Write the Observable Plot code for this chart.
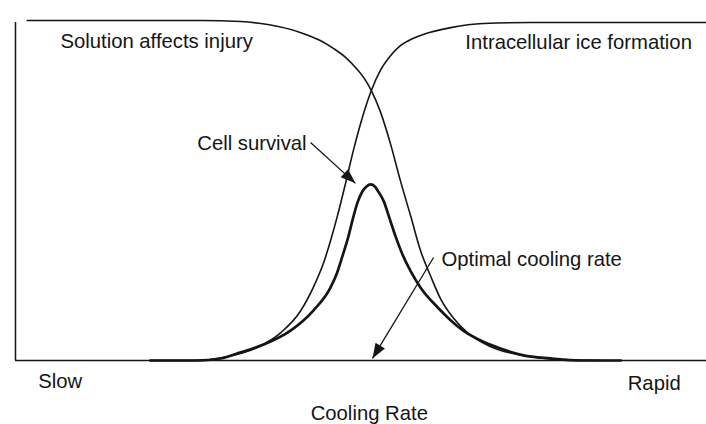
<!DOCTYPE html>
<html>
<head>
<meta charset="utf-8">
<script src="https://cdn.jsdelivr.net/npm/d3@7"></script>
<script src="https://cdn.jsdelivr.net/npm/@observablehq/plot@0.6"></script>
<style>
  html, body { margin: 0; padding: 0; background: #fff; }
  #chart svg { display: block; }
</style>
</head>
<body>
<div id="chart"></div>
<script>
// Cooling rate in arbitrary units (0 = slow, 100 = rapid); response as fraction (0..1)
const solutionX = [1.7, 19.5, 26.8, 32.6, 36.5, 41.2, 44.1, 46.0, 47.8, 49.2, 50.4, 51.5, 52.8, 54.3, 55.7, 57.2, 58.6, 60.1, 61.5, 63.4, 65.4, 67.3, 69.8, 73.5, 78.9, 84.7];
const solutionY = [1.0, 1.0, 1.0, 0.997, 0.988, 0.965, 0.941, 0.918, 0.891, 0.862, 0.832, 0.794, 0.732, 0.635, 0.529, 0.424, 0.324, 0.247, 0.182, 0.124, 0.082, 0.056, 0.032, 0.015, 0.003, 0];

const iceX = [19.5, 26.3, 30.1, 35.0, 38.4, 41.2, 43.1, 44.6, 45.6, 46.6, 47.8, 48.9, 50.2, 51.5, 52.8, 54.3, 55.7, 57.5, 59.0, 63.0, 67.7, 74.5, 100];
const iceY = [0, 0, 0.009, 0.038, 0.082, 0.144, 0.215, 0.288, 0.353, 0.426, 0.524, 0.618, 0.715, 0.794, 0.853, 0.897, 0.926, 0.947, 0.959, 0.979, 0.991, 0.994, 0.994];

const survivalX = [19.5, 26.1, 29.7, 32.6, 35.9, 39.8, 43.1, 45.6, 46.5, 47.3, 48.1, 48.8, 49.5, 50.2, 50.8, 51.4, 52.0, 52.5, 53.3, 54.0, 55.0, 56.0, 57.2, 58.6, 61.1, 63.0, 64.8, 67.3, 69.8, 73.5, 77.4, 81.8, 87.6];
const survivalY = [0, 0, 0.006, 0.024, 0.047, 0.088, 0.147, 0.215, 0.256, 0.306, 0.359, 0.415, 0.465, 0.497, 0.512, 0.518, 0.512, 0.497, 0.468, 0.426, 0.365, 0.312, 0.262, 0.215, 0.156, 0.118, 0.088, 0.059, 0.038, 0.015, 0.006, 0, 0];

// Annotation labels
const labelText   = ["Solution affects injury", "Intracellular ice formation", "Cell survival", "Optimal cooling rate", "Slow", "Rapid", "Cooling Rate"];
const labelX      = [6.5, 65.1, 26.3, 61.65, 3.3, 88.6, 51.2];
const labelY      = [0.939, 0.936, 0.639, 0.298, -0.061, -0.069, -0.155];
const labelAnchor = ["start", "start", "start", "start", "start", "start", "middle"];

// Annotation arrows (from label to target)
const arrowX1 = [42.7, 60.5];
const arrowY1 = [0.641, 0.303];
const arrowX2 = [49.2, 51.66];
const arrowY2 = [0.521, 0.006];

const W = 706, H = 424, mL = 15, mR = 0, mT = 20, mB = 64;
const xDomain = [0, 100], yDomain = [0, 1];

const toPts = (xs, ys) => xs.map((x, i) => ({x, y: ys[i]}));
const solution = toPts(solutionX, solutionY);
const ice = toPts(iceX, iceY);
const survival = toPts(survivalX, survivalY);
const labels = labelText.map((t, i) => ({t, x: labelX[i], y: labelY[i], a: labelAnchor[i]}));

const sx = d3.scaleLinear(xDomain, [mL, W - mR]);
const sy = d3.scaleLinear(yDomain, [H - mB, mT]);
const arrows = arrowX1.map((x1, i) => {
  const dx = sx(arrowX2[i]) - sx(x1), dy = sy(arrowY2[i]) - sy(arrowY1[i]);
  return {x1, y1: arrowY1[i], x2: arrowX2[i], y2: arrowY2[i], angle: Math.atan2(dx, -dy) * 180 / Math.PI};
});

const headSymbol = {
  draw(ctx) {
    ctx.moveTo(0, 0);
    ctx.lineTo(-5.5, 15);
    ctx.lineTo(5.5, 15);
    ctx.closePath();
  }
};

const ink = "#151515";
const font = "'Liberation Sans', Arial, Helvetica, sans-serif";

const chart = Plot.plot({
  width: W, height: H,
  marginLeft: mL, marginRight: mR, marginTop: mT, marginBottom: mB,
  x: {domain: xDomain, axis: null},
  y: {domain: yDomain, axis: null},
  style: {fontFamily: font, background: "#fff"},
  marks: [
    Plot.ruleY([0], {stroke: ink, strokeWidth: 1.5}),
    Plot.ruleX([0], {y1: 0, y2: 0.994, stroke: ink, strokeWidth: 1.5}),
    Plot.line(solution, {x: "x", y: "y", curve: "monotone-x", stroke: ink, strokeWidth: 1.6}),
    Plot.line(ice, {x: "x", y: "y", curve: "monotone-x", stroke: ink, strokeWidth: 1.6}),
    Plot.line(survival, {x: "x", y: "y", curve: "monotone-x", stroke: ink, strokeWidth: 2.7}),
    Plot.link(arrows, {x1: "x1", y1: "y1", x2: "x2", y2: "y2", stroke: ink, strokeWidth: 1.3}),
    Plot.dot(arrows, {x: "x2", y: "y2", rotate: "angle", symbol: headSymbol, fill: ink, stroke: "none", r: 6}),
    Plot.text(labels, {x: "x", y: "y", text: "t", textAnchor: "start", filter: d => d.a === "start", fontSize: 20.3, fill: ink, fontFamily: font}),
    Plot.text(labels, {x: "x", y: "y", text: "t", textAnchor: "middle", filter: d => d.a === "middle", fontSize: 20.3, fill: ink, fontFamily: font})
  ]
});
document.getElementById("chart").appendChild(chart);
</script>
</body>
</html>
